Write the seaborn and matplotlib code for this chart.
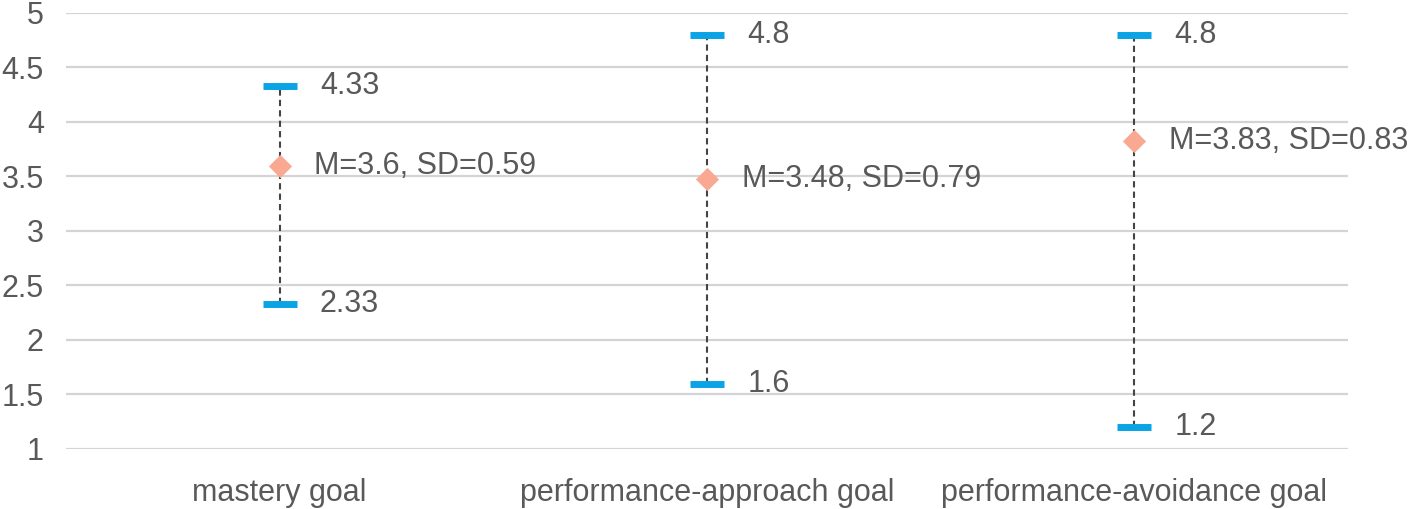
import matplotlib
matplotlib.use("Agg")
import matplotlib.pyplot as plt
import seaborn as sns
import pandas as pd

categories = ["mastery goal", "performance-approach goal", "performance-avoidance goal"]
max_vals = [4.33, 4.8, 4.8]
min_vals = [2.33, 1.6, 1.2]
means = [3.6, 3.48, 3.83]
sds = [0.59, 0.79, 0.83]

blue = "#0aa3e6"
salmon = "#f9a992"
txt = "#595959"

sns.set_style("white")
plt.rcParams["font.family"] = ["Liberation Sans", "DejaVu Sans"]

df = pd.DataFrame({"goal": categories, "max": max_vals, "min": min_vals,
                   "mean": means, "sd": sds})
df["pos"] = range(len(df))

fig = plt.figure(figsize=(14.16, 5.09), dpi=100)
ax = fig.add_axes([0.0466, 0.1179, 0.9054, 0.8566])

# dashed range lines
ax.vlines(df["pos"], df["min"], df["max"], colors="#444444",
          linestyles=(0, (3, 2)), linewidth=1.5, zorder=2)

# min / max dashes
for col in ["max", "min"]:
    sns.scatterplot(data=df, x="pos", y=col, marker="_", s=630, color=blue,
                    linewidth=5, ax=ax, zorder=3, legend=False)

# means
sns.scatterplot(data=df, x="pos", y="mean", marker="D", s=140, color=salmon,
                edgecolor=salmon, linewidth=0, ax=ax, zorder=4, legend=False)

for _, r in df.iterrows():
    for col in ["max", "min"]:
        ax.annotate(f"{r[col]:g}", (r["pos"], r[col]), xytext=(29, 0),
                    textcoords="offset points", va="center", ha="left",
                    fontsize=22, color=txt)
    ax.annotate(f"M={r['mean']:g}, SD={r['sd']:g}", (r["pos"], r["mean"]),
                xytext=(25, 0), textcoords="offset points", va="center",
                ha="left", fontsize=22, color=txt)

ax.set_xlim(-0.5, 2.5)
ax.set_ylim(1, 5)
ax.set_yticks([1, 1.5, 2, 2.5, 3, 3.5, 4, 4.5, 5])
ax.set_yticklabels(["1", "1.5", "2", "2.5", "3", "3.5", "4", "4.5", "5"])
ax.set_xticks(df["pos"])
ax.set_xticklabels(categories)
ax.tick_params(axis="both", length=0, labelsize=22, labelcolor=txt)
ax.tick_params(axis="y", pad=16)
ax.tick_params(axis="x", pad=21)
ax.set_xlabel("")
ax.set_ylabel("")
ax.grid(axis="y", color="#d4d4d4", linewidth=1.6, zorder=0)
ax.set_axisbelow(True)
for s in ax.spines.values():
    s.set_visible(False)

fig.savefig("out.png", dpi=100)
